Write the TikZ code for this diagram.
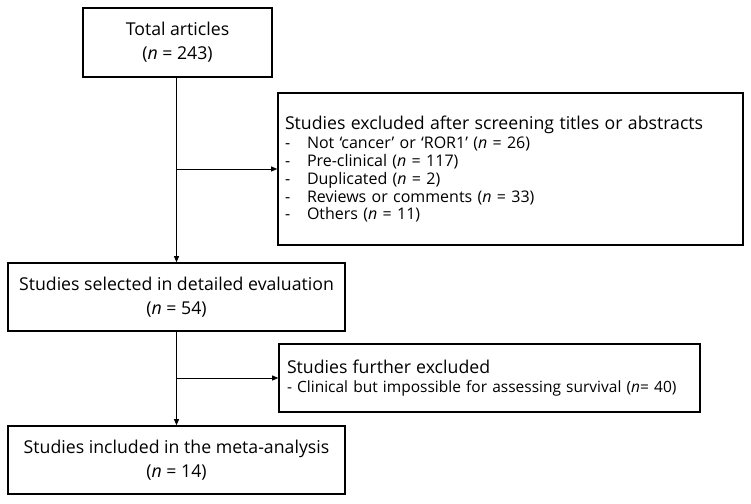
\documentclass[tikz,border=0pt]{standalone}
\usepackage{fontspec}
\setmainfont{Open Sans}
\usetikzlibrary{arrows.meta}

\newcommand{\bigtxt}{\fontsize{17.7}{24}\selectfont}
\newcommand{\smalltxt}{\fontsize{16}{17.7}\selectfont}
\newcommand{\subtxt}{\fontsize{15.5}{17.7}\selectfont}
\newcommand{\dashitem}[1]{\makebox[22pt][l]{-}#1}

\tikzset{
  box/.style={draw, line width=1.6pt, inner sep=0pt, align=center, font=\bigtxt},
  listbox/.style={box, align=left, font=\smalltxt},
  link/.style={line width=0.8pt},
  arr/.style={link, -{Triangle[length=6pt,width=5pt]}},
}

\begin{document}
\begin{tikzpicture}[x=1pt,y=-1pt]
\useasboundingbox (0,0) rectangle (751,503);

\node[box, minimum width=189pt, minimum height=69pt] (total) at (177.5,42.5)
  {Total articles\\(\textit{n} = 243)};
\node[listbox, minimum width=465pt, minimum height=152pt, text width=451pt] (excl) at (510.5,169)
  {{\bigtxt Studies excluded after screening titles or abstracts}\\[2pt]
   \dashitem{Not ‘cancer’ or ‘ROR1’ (\textit{n} = 26)}\\
   \dashitem{Pre-clinical (\textit{n} = 117)}\\
   \dashitem{Duplicated (\textit{n} = 2)}\\
   \dashitem{Reviews or comments (\textit{n} = 33)}\\
   \dashitem{Others (\textit{n} = 11)}};
\node[box, minimum width=337pt, minimum height=68pt] (sel) at (176.5,297)
  {Studies selected in detailed evaluation\\(\textit{n} = 54)};
\node[listbox, font=\subtxt, minimum width=421pt, minimum height=68pt, text width=405pt] (furth) at (489.5,378)
  {{\bigtxt Studies further excluded}\\[2pt]
   - Clinical but impossible for assessing survival (\textit{n}= 40)};
\node[box, minimum width=337pt, minimum height=68pt] (incl) at (176.5,460)
  {Studies included in the meta-analysis\\(\textit{n} = 14)};

% branch points
\coordinate (j1) at (sel.north |- excl.west);
\coordinate (j2) at (sel.south |- furth.west);

% flow
\draw[arr] (total.south -| sel.north) -- (sel.north);
\draw[arr] (j1) -- (excl.west);
\draw[arr] (sel.south) -- (incl.north);
\draw[arr] (j2) -- (furth.west);

\end{tikzpicture}
\end{document}
